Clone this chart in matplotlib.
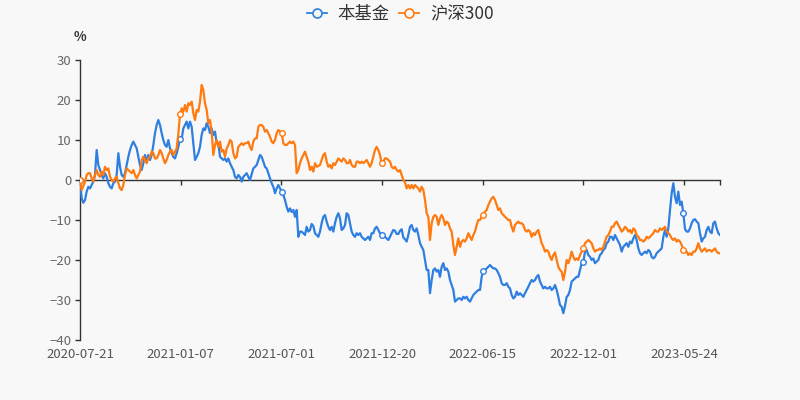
import numpy as np
import matplotlib
matplotlib.use("Agg")
import matplotlib.pyplot as plt
from matplotlib.lines import Line2D

plt.rcParams['font.family'] = ['Noto Sans CJK SC', 'DejaVu Sans']

series_names = ["本基金", "沪深300"]
x_labels = ["2020-07-21", "2021-01-07", "2021-07-01", "2021-12-20",
            "2022-06-15", "2022-12-01", "2023-05-24"]
label_days = [0, 115, 230, 345, 460, 575, 690]
last_day = 731

fund = [
    0.0, -4.6, -5.7, -5.0, -2.9, -1.7, -2.1, -1.25, -0.4, 1.25,
    7.5, 3.75, 2.5, 1.25, 0.4, 1.7, 0.8, -0.8, -1.7, -2.1,
    -0.8, -0.4, 1.25, 6.7, 3.3, 1.25, 0.8, 1.7, 3.75, 5.8,
    7.5, 8.75, 9.6, 8.75, 7.9, 5.8, 3.75, 2.5, 4.2, 6.25,
    4.6, 6.25, 5.0, 6.25, 8.75, 11.7, 13.75, 15.0, 13.75, 11.7,
    10.0, 8.75, 8.3, 10.0, 7.9, 6.7, 5.8, 5.4, 6.7, 8.3,
    10.3, 10.3, 12.9, 13.75, 14.6, 12.9, 14.6, 13.3, 9.2, 5.0,
    5.8, 6.7, 8.3, 11.25, 12.9, 12.5, 14.2, 13.3, 11.7, 12.9,
    11.25, 12.1, 9.2, 9.2, 5.8, 5.4, 5.0, 5.4, 4.6, 5.4,
    4.2, 3.3, 2.5, 0.8, 0.4, 1.25, 0.8, -0.4, 0.8, 1.25,
    1.7, 0.8, 0.0, 1.5, 2.9, 3.3, 3.75, 5.0, 6.25, 5.8,
    4.6, 3.3, 2.9, 1.7, 0.4, -0.8, -1.7, -3.3, -2.1, -1.25,
    -2.1, -2.9, -3.75, -5.0, -6.7, -7.9, -7.1, -8.0, -7.5, -9.2,
    -7.5, -14.2, -12.9, -12.9, -13.3, -13.75, -11.7, -12.9, -12.5, -11.0,
    -11.5, -13.3, -13.75, -14.2, -12.9, -10.8, -9.2, -8.75, -10.4, -11.7,
    -12.5, -11.7, -12.9, -10.8, -9.2, -8.3, -9.6, -12.5, -12.1, -11.25,
    -8.3, -8.75, -10.8, -12.9, -13.75, -14.2, -13.3, -13.75, -13.3, -14.2,
    -14.6, -15.0, -14.6, -14.2, -15.0, -13.3, -13.3, -12.1, -11.7, -12.5,
    -13.3, -13.75, -14.0, -14.2, -14.6, -15.0, -14.2, -13.3, -12.5, -12.7,
    -13.5, -13.5, -12.7, -12.3, -14.4, -14.8, -15.4, -13.75, -11.7, -11.25,
    -12.5, -12.9, -12.1, -13.75, -15.8, -16.7, -17.5, -20.0, -22.5, -22.5,
    -28.3, -25.0, -22.5, -22.1, -22.9, -22.5, -24.2, -21.7, -20.8, -22.5,
    -22.1, -22.9, -25.0, -26.25, -27.5, -30.4, -30.0, -29.6, -29.6, -30.0,
    -29.2, -29.6, -29.2, -30.0, -30.4, -29.6, -28.75, -28.3, -27.9, -27.5,
    -27.5, -24.2, -22.75, -22.5, -22.1, -21.7, -21.25, -21.7, -22.1, -22.1,
    -22.5, -23.3, -24.2, -25.8, -26.25, -26.25, -25.8, -26.7, -27.1, -28.75,
    -29.6, -29.2, -27.9, -28.75, -28.3, -28.75, -29.2, -28.3, -27.5, -26.7,
    -25.8, -25.0, -25.4, -25.0, -24.2, -23.75, -25.4, -26.25, -27.1, -26.7,
    -27.1, -27.1, -26.7, -27.5, -27.1, -26.25, -27.5, -29.2, -31.25, -31.7,
    -33.3, -31.5, -29.2, -28.75, -27.5, -25.4, -25.0, -24.6, -24.2, -24.2,
    -22.5, -20.8, -20.4, -17.9, -17.5, -18.75, -19.2, -20.0, -19.6, -20.8,
    -20.4, -20.0, -18.75, -18.3, -17.5, -17.1, -15.8, -15.4, -14.2, -14.2,
    -15.0, -13.75, -14.6, -15.4, -16.25, -17.9, -16.7, -16.25, -15.8, -16.7,
    -15.4, -15.8, -14.6, -13.75, -15.0, -17.1, -18.3, -18.75, -18.3, -17.9,
    -18.3, -17.5, -17.9, -19.2, -19.6, -19.2, -18.3, -17.9, -17.5, -17.1,
    -14.2, -12.5, -14.2, -12.1, -7.5, -3.3, -0.8, -4.2, -5.8, -2.9,
    -6.25, -5.4, -8.3, -12.25, -12.9, -12.9, -12.1, -10.8, -10.0, -9.8,
    -10.4, -10.8, -13.3, -15.4, -14.6, -14.2, -12.5, -11.7, -12.9, -13.3,
    -10.8, -10.4, -12.1, -13.3, -13.75,
]

hs300 = [
    0.0, -2.5, -1.5, -0.4, 1.25, 1.7, 1.7, 0.4, -0.4, 1.25,
    2.5, 1.25, 0.8, 2.1, 1.25, 3.3, 2.5, 2.9, 0.8, 0.0,
    -0.4, 0.4, 0.8, -0.8, -2.1, -2.5, -1.25, 1.25, 2.9, 2.5,
    2.1, 1.7, 2.5, 1.25, 0.4, 1.25, 2.1, 5.0, 5.8, 5.0,
    4.2, 5.4, 5.8, 7.1, 6.7, 5.4, 5.4, 6.25, 7.5, 6.7,
    5.4, 4.2, 5.0, 6.25, 7.1, 7.5, 6.25, 7.1, 7.9, 11.5,
    16.5, 17.9, 17.1, 18.75, 17.1, 19.2, 18.75, 19.6, 16.7, 15.0,
    17.5, 17.1, 19.6, 23.75, 22.5, 19.2, 17.5, 14.2, 15.0, 12.1,
    6.25, 8.75, 10.0, 8.3, 9.6, 7.1, 7.5, 5.8, 7.9, 8.75,
    10.0, 9.6, 6.7, 5.4, 5.8, 8.3, 8.75, 9.2, 8.75, 9.2,
    9.2, 9.6, 8.3, 7.5, 9.6, 10.4, 10.4, 13.3, 13.75, 13.75,
    13.3, 12.1, 12.5, 11.7, 10.8, 9.6, 9.2, 10.0, 11.7, 12.5,
    12.1, 11.7, 9.2, 8.75, 8.75, 9.2, 9.6, 9.2, 9.6, 8.75,
    1.7, 2.5, 4.2, 5.4, 6.25, 7.1, 5.8, 4.6, 2.5, 3.3,
    2.1, 4.2, 3.3, 3.5, 3.75, 5.0, 6.25, 6.7, 4.6, 3.3,
    3.75, 2.9, 4.2, 3.75, 4.6, 5.4, 5.0, 4.6, 5.4, 5.0,
    4.2, 4.2, 5.0, 3.75, 3.3, 3.3, 4.6, 4.6, 4.2, 4.6,
    4.2, 4.6, 5.0, 4.2, 3.3, 4.2, 5.8, 7.5, 8.3, 7.5,
    6.25, 4.2, 4.6, 5.4, 5.4, 5.0, 4.6, 3.3, 2.9, 3.3,
    2.5, 2.1, 2.5, 1.25, 0.0, -0.6, -2.1, -1.25, -2.1, -1.25,
    -2.1, -1.25, -1.7, -2.1, -2.9, -1.7, -2.5, -5.0, -8.3, -9.2,
    -15.0, -10.8, -9.2, -8.75, -9.2, -11.25, -9.6, -8.75, -9.6, -11.25,
    -10.4, -10.8, -12.1, -12.9, -16.25, -18.75, -16.7, -14.6, -16.7, -15.4,
    -15.0, -15.4, -14.6, -13.3, -14.2, -15.0, -13.75, -12.9, -11.25, -10.0,
    -10.0, -9.2, -8.75, -7.9, -7.5, -6.25, -5.4, -4.6, -4.2, -5.0,
    -6.25, -7.5, -7.1, -8.3, -8.75, -9.2, -9.6, -10.0, -10.0, -11.7,
    -12.9, -11.25, -10.8, -10.4, -10.8, -10.8, -11.25, -12.5, -12.9, -12.5,
    -12.9, -14.2, -13.3, -13.75, -12.9, -12.5, -14.2, -15.8, -16.7, -17.9,
    -17.5, -17.9, -19.2, -20.0, -18.75, -18.1, -20.0, -21.7, -22.5, -22.9,
    -25.0, -23.0, -20.0, -20.8, -19.6, -17.9, -19.2, -20.0, -19.6, -20.0,
    -18.75, -17.9, -17.1, -15.8, -15.4, -15.0, -15.4, -15.8, -17.1, -17.9,
    -17.5, -17.5, -17.1, -17.5, -16.7, -15.4, -14.2, -13.75, -12.9, -11.7,
    -11.7, -10.8, -10.4, -11.25, -12.1, -12.9, -12.5, -11.7, -12.1, -12.9,
    -12.5, -13.3, -12.1, -12.5, -13.75, -14.2, -15.0, -15.0, -15.4, -15.0,
    -14.2, -14.6, -14.2, -13.75, -13.3, -12.5, -12.9, -12.9, -12.1, -12.5,
    -12.1, -11.7, -12.9, -13.3, -13.75, -14.6, -15.0, -14.6, -15.4, -15.0,
    -15.4, -16.25, -17.5, -17.9, -17.9, -18.75, -18.3, -18.75, -17.9, -17.9,
    -17.1, -15.8, -17.1, -17.9, -17.5, -17.1, -17.9, -17.5, -17.5, -17.9,
    -17.5, -17.1, -17.9, -18.3, -18.3,
]

colors = ["#2f7fe0", "#ff7a0f"]
bg = "#f8f8f8"

n = len(fund)
days = np.linspace(0, last_day, n)
mark_idx = [int(round(d * (n - 1) / last_day)) for d in label_days]

fig = plt.figure(figsize=(8, 4), dpi=100, facecolor=bg)
ax = fig.add_axes([0.1, 0.15, 0.8, 0.7])
ax.set_facecolor(bg)

for vals, c, z in [(fund, colors[0], 3), (hs300, colors[1], 4)]:
    ax.plot(days, vals, color=c, lw=1.6, zorder=z, solid_joinstyle='round',
            marker='o', markevery=mark_idx, markersize=4,
            markerfacecolor='white', markeredgecolor=c, markeredgewidth=1)

ax.set_xlim(0, last_day)
ax.set_ylim(-40, 30)
ax.set_yticks(np.arange(-40, 31, 10))
ax.tick_params(axis='y', colors='#333333', labelcolor='#666666',
               labelsize=9.5, length=3.75, width=1, pad=2.5)

for s in ['top', 'right']:
    ax.spines[s].set_visible(False)
ax.spines['left'].set_color('#333333')
ax.spines['left'].set_linewidth(1)
ax.spines['bottom'].set_position(('data', 0))
ax.spines['bottom'].set_color('#333333')
ax.spines['bottom'].set_linewidth(1)
ax.set_xticks(label_days + [last_day])
ax.tick_params(axis='x', colors='#333333', length=3.5, width=1,
               labelbottom=False, direction='out')

sec = ax.secondary_xaxis(0.0)
sec.spines['bottom'].set_visible(False)
sec.set_xticks(label_days)
sec.set_xticklabels(x_labels)
sec.tick_params(axis='x', length=0, pad=5.5, labelsize=9.5, labelcolor='#555555')

fig.text(0.1, 1 - 37 / 400, "%", ha='center', va='center',
         fontsize=9.5, color='#333333', fontweight='bold')

handles = [Line2D([], [], color=c, lw=1.3, marker='o', markersize=6.5,
                  markerfacecolor=bg, markeredgecolor=c, markeredgewidth=1.2)
           for c in colors]
fig.legend(handles, series_names, loc='center', bbox_to_anchor=(0.5, 1 - 14 / 400),
           ncol=2, frameon=False, fontsize=12.5, handlelength=1.15,
           handletextpad=0.6, columnspacing=0.6, borderpad=0,
           labelcolor='#333333')

fig.savefig("out.png", dpi=100, facecolor=bg)
